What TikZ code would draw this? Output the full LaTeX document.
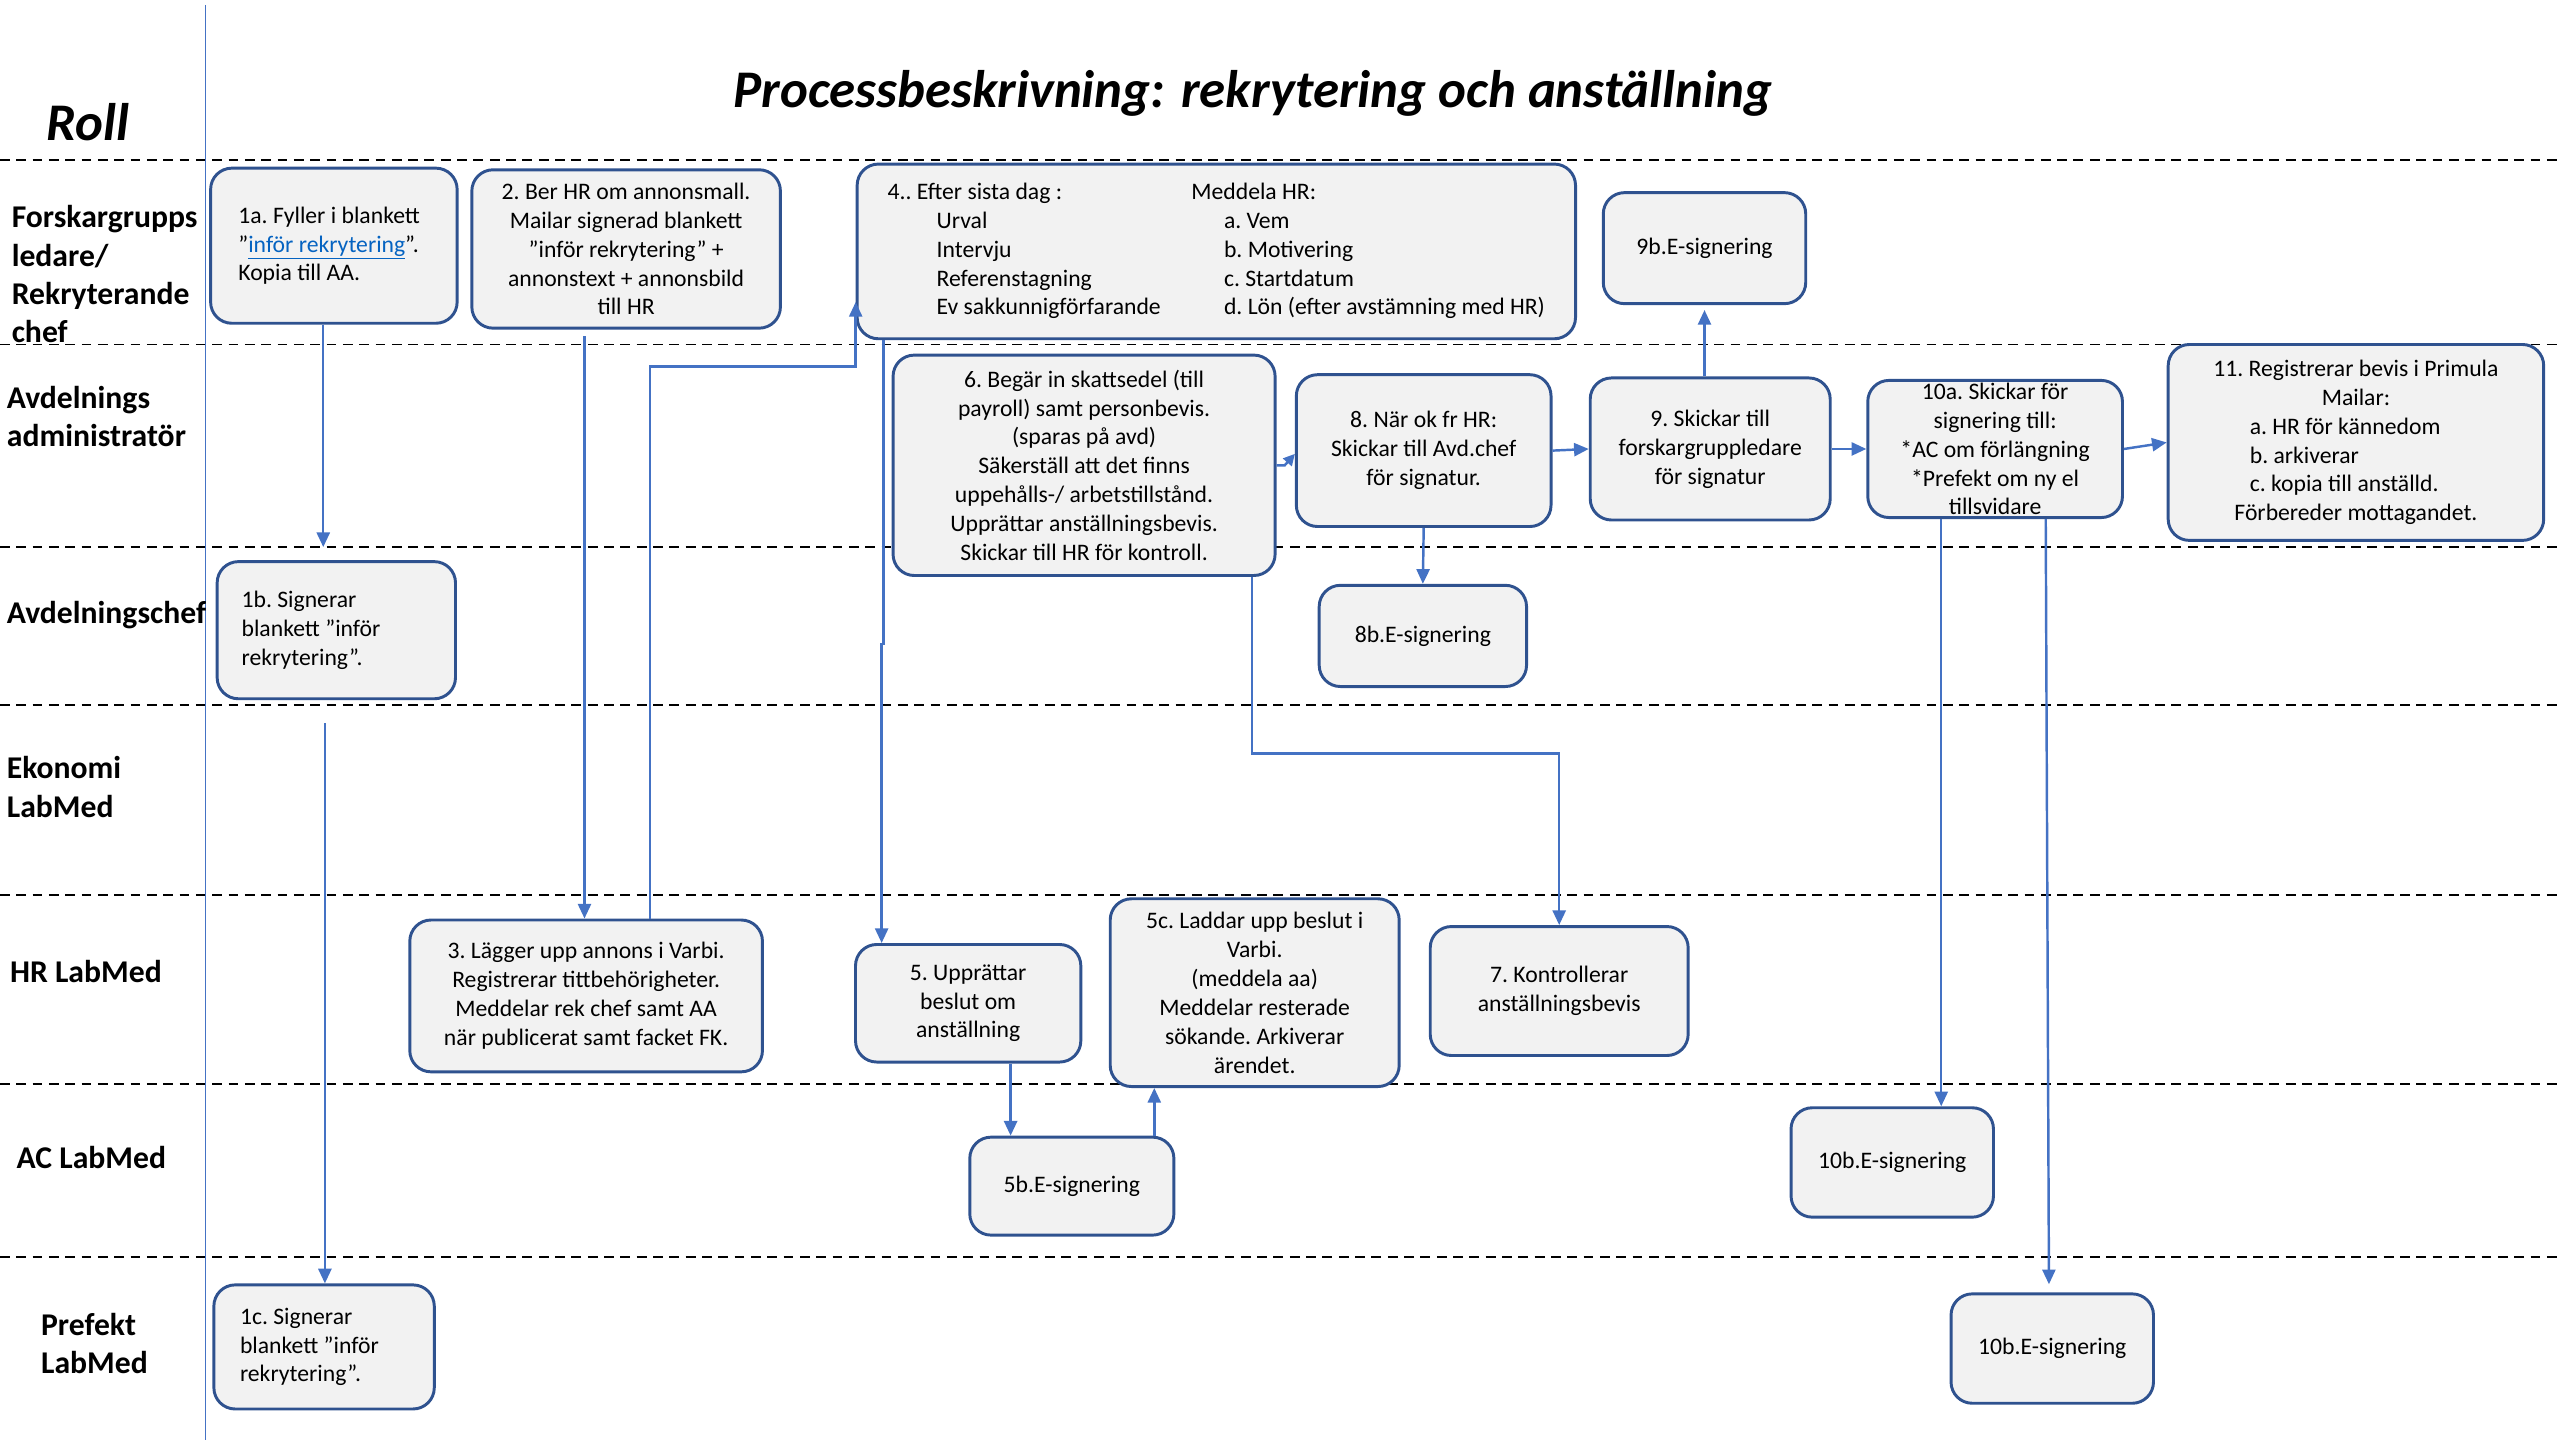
\documentclass[tikz,border=0pt]{standalone}
\usepackage{fontspec}
\setmainfont{Carlito}
\usetikzlibrary{arrows.meta}
\definecolor{boxline}{HTML}{2F528F}
\definecolor{boxfill}{HTML}{F2F2F2}
\definecolor{connblue}{HTML}{4472C4}
\definecolor{linkblue}{HTML}{0563C1}
\newcommand{\bxf}{\fontsize{14.5pt}{17.7pt}\selectfont\frenchspacing}
\newcommand{\lnf}{\fontsize{19.4pt}{23.5pt}\selectfont\bfseries}
\newcommand{\ttlf}{\fontsize{32.4pt}{38pt}\selectfont\bfseries\itshape}
\newcommand{\lline}[2]{\makebox[#1][l]{#2}}
\begin{document}
\begin{tikzpicture}[x=1pt,y=-1pt,
  box/.style={draw=boxline, fill=boxfill, line width=1.8pt, rounded corners=13pt, inner sep=0pt, align=center, font=\bxf},
  conn/.style={draw=connblue, line width=1.5pt, -{Triangle[length=9pt,width=8pt]}},
  lane/.style={anchor=west, align=left, font=\lnf, inner sep=0pt},
  sep/.style={draw=black, line width=1.2pt, dash pattern=on 6pt off 4pt}]
\useasboundingbox (0,0) rectangle (1568,882);
% lane separators
\foreach \yy in {98,211,335,432,548,664,770} {\draw[sep] (0,\yy) -- (1568,\yy);}
\draw[connblue, line width=0.8pt] (126,3) -- (126,882);
% titles
\node[font=\ttlf, inner sep=0pt] (title) at (767.5,57) {Processbeskrivning: rekrytering och anställning};
\node[font=\ttlf, inner sep=0pt] (roll) at (54,75) {Roll};
% lane labels
\node[lane] (l1) at (7,168) {Forskargrupps\\ledare/\\Rekryterande\\chef};
\node[lane] (l2) at (4,255) {Avdelnings\\administratör};
\node[lane] (l3) at (4,377) {Avdelningschef};
\node[lane] (l4) at (4,482) {Ekonomi\\LabMed};
\node[lane] (l5) at (6,595) {HR LabMed};
\node[lane] (l6) at (10,709) {AC LabMed};
\node[lane] (l7) at (25,823) {Prefekt\\LabMed};
% boxes
\node[box, align=left, minimum width=151pt, minimum height=95pt] (a1) at (204.5,150.5) {\lline{117pt}{1a. Fyller i blankett}\\”\textcolor{linkblue}{\underline{inför rekrytering}}”.\\Kopia till AA.};
\node[box, minimum width=189pt, minimum height=97pt] (n2) at (383.5,152.5) {2. Ber HR om annonsmall.\\Mailar signerad blankett\\”inför rekrytering” +\\annonstext + annonsbild\\till HR};
\node[box, minimum width=440pt, minimum height=107pt] (n4) at (745,154) {\begin{tabular}{@{}p{186pt}@{}l@{}}
4.. Efter sista dag : & Meddela HR:\\
\hspace*{30pt}Urval & \hspace*{20pt}a. Vem\\
\hspace*{30pt}Intervju & \hspace*{20pt}b. Motivering\\
\hspace*{30pt}Referenstagning & \hspace*{20pt}c. Startdatum\\
\hspace*{30pt}Ev sakkunnigförfarande & \hspace*{20pt}d. Lön (efter avstämning med HR)
\end{tabular}};
\node[box, minimum width=124pt, minimum height=68pt] (n9b) at (1044,152) {9b.E-signering};
\node[box, minimum width=234pt, minimum height=135pt] (n6) at (664,285) {6. Begär in skattsedel (till\\payroll) samt personbevis.\\(sparas på avd)\\Säkerställ att det finns\\uppehålls-/ arbetstillstånd.\\Upprättar anställningsbevis.\\Skickar till HR för kontroll.};
\node[box, minimum width=156pt, minimum height=93pt] (n8) at (872,276) {8. När ok fr HR:\\Skickar till Avd.chef\\för signatur.};
\node[box, minimum width=147pt, minimum height=87pt] (n9) at (1047.5,275) {9. Skickar till\\forskargruppledare\\för signatur};
\node[box, minimum width=156pt, minimum height=84pt] (n10a) at (1222,275) {10a. Skickar för\\signering till:\\*AC om förlängning\\*Prefekt om ny el\\tillsvidare};
\node[box, minimum width=230pt, minimum height=120pt] (n11) at (1443,271) {11. Registrerar bevis i Primula\\Mailar:\\\lline{130pt}{a. HR för kännedom}\\\lline{130pt}{b. arkiverar}\\\lline{130pt}{c. kopia till anställd.}\\Förbereder mottagandet.};
\node[box, align=left, minimum width=146pt, minimum height=84pt] (b1) at (206,386) {\lline{116pt}{1b. Signerar}\\blankett ”inför\\rekrytering”.};
\node[box, minimum width=127pt, minimum height=62pt] (n8b) at (871.5,389.5) {8b.E-signering};
\node[box, minimum width=216pt, minimum height=93pt] (n3) at (359,610) {3. Lägger upp annons i Varbi.\\Registrerar tittbehörigheter.\\Meddelar rek chef samt AA\\när publicerat samt facket FK.};
\node[box, minimum width=138pt, minimum height=72pt] (n5) at (593,614.5) {5. Upprättar\\beslut om\\anställning};
\node[box, minimum width=177pt, minimum height=115pt] (n5c) at (768.5,608) {5c. Laddar upp beslut i\\Varbi.\\(meddela aa)\\Meddelar resterade\\sökande. Arkiverar\\ärendet.};
\node[box, minimum width=158pt, minimum height=79pt] (n7) at (955,607) {7. Kontrollerar\\anställningsbevis};
\node[box, minimum width=125pt, minimum height=60pt] (n5b) at (656.5,726.5) {5b.E-signering};
\node[box, minimum width=124pt, minimum height=67pt] (n10ac) at (1159,712) {10b.E-signering};
\node[box, align=left, minimum width=135pt, minimum height=76pt] (c1) at (198.5,825) {\lline{103pt}{1c. Signerar}\\blankett ”inför\\rekrytering”.};
\node[box, minimum width=124pt, minimum height=67pt] (n10p) at (1257,826) {10b.E-signering};
% connectors
\draw[conn, shorten >=8pt] ([xshift=-6.5pt]a1.south) -- ([xshift=-8pt]b1.north);
\draw[conn] ([xshift=-7pt,yshift=-14pt]b1.south) -- ([xshift=0.5pt]c1.north);
\draw[conn] ([xshift=-25.5pt,yshift=-4pt]n2.south) -- ([xshift=-1pt]n3.north);
\draw[conn] ([xshift=39pt]n3.north) -- ++(0,-338) -| ([yshift=-31pt]n4.west);
\draw[conn] ([xshift=-204pt]n4.south) -- ++(0,186) -| ([xshift=-53pt]n5.north);
\draw[conn] ([xshift=26pt]n5.south) -- ([xshift=-37.5pt]n5b.north);
\draw[conn] ([xshift=50.5pt]n5b.north) -- ([xshift=-61.5pt]n5c.south);
\draw[conn] ([xshift=103pt]n6.south) -- ++(0,108) -| (n7.north);
\draw[conn, -{Triangle[length=7pt,width=7pt]}] (n6.east) -- ++(5,0) -- ([yshift=-2pt]n8.west);
\draw[conn] (n8.east) -- (n9.west);
\draw[conn] (n8.south) -- (n8b.north);
\draw[conn, shorten >=3pt] ([xshift=-3.5pt]n9.north) -- (n9b.south);
\draw[conn] (n9.east) -- (n10a.west);
\draw[conn] (n10a.east) -- (n11.west);
\draw[conn] ([xshift=-33pt]n10a.south) -- ([xshift=30pt]n10ac.north);
\draw[conn, shorten >=5pt] ([xshift=31pt]n10a.south) -- ([xshift=-2pt]n10p.north);
\end{tikzpicture}
\end{document}
